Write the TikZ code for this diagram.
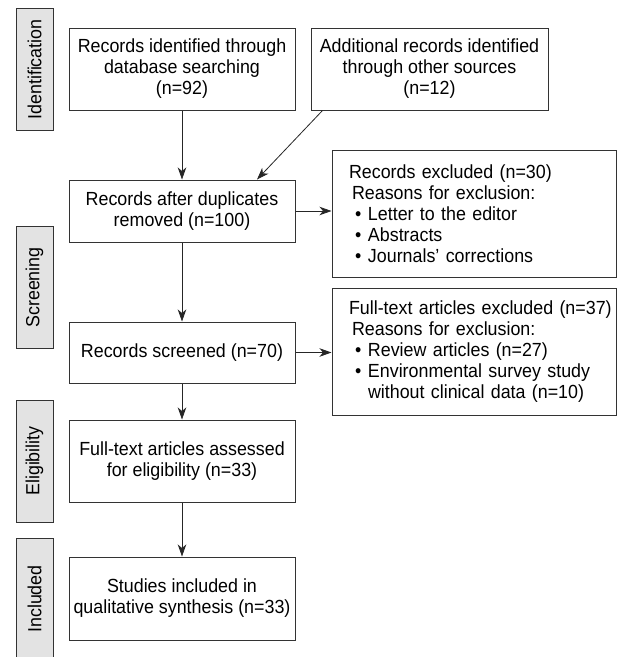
\documentclass[tikz,border=0pt]{standalone}
\usepackage{fontspec}
\setmainfont{Liberation Sans}[FakeStretch=0.94]
\usetikzlibrary{arrows.meta}
\newcommand{\bul}{\makebox[19pt][l]{\hspace*{6pt}\textbullet}}

\begin{document}
\begin{tikzpicture}
  [x=1pt,y=-1pt,
   every node/.style={font=\fontsize{19}{21}\selectfont},
   box/.style={draw=black!80,line width=1pt,align=center,inner sep=0pt,minimum width=226pt},
   side/.style={draw=black!80,line width=1pt,fill=black!11,rotate=90,inner sep=0pt,minimum width=122pt,minimum height=37pt},
   note/.style={draw=black!80,line width=1pt,align=left,inner xsep=0pt,text width=284pt,minimum height=127pt,execute at begin node={\leftskip=17pt\relax}},
   link/.style={-{Stealth[length=12pt,width=8.5pt,inset=3.5pt]},draw=black!85,line width=0.8pt}]
  \clip (0,0) rectangle (617,657);

  \node[side] (lab1) at (34.5,69.5) {Identification};
  \node[side] (lab2) at (34.5,287.5) {Screening};
  \node[side] (lab3) at (34.5,461) {Eligibility};
  \node[side] (lab4) at (34.5,599) {Included};

  \node[box,minimum height=82pt] (ident) at (182,69) {Records identified through\\database searching\\(n=92)};
  \node[box,minimum height=82pt,minimum width=237pt] (other) at (429.5,69) {Additional records identified\\through other sources\\(n=12)};
  \node[box,minimum height=62pt] (dup) at (182,211) {Records after duplicates\\removed (n=100)};
  \node[note] (excl) at (474,213.5) {Records excluded (n=30)\\
    \hspace*{3pt}Reasons for exclusion:\\
    \bul Letter to the editor\\
    \bul Abstracts\\
    \bul Journals' corrections};
  \node[box,minimum height=61pt] (screen) at (182,352.5) {Records screened (n=70)};
  \node[note] (ftexcl) at (474,351.5) {Full-text articles excluded (n=37)\\
    \hspace*{3pt}Reasons for exclusion:\\
    \bul Review articles (n=27)\\
    \bul Environmental survey study\\
    \hspace*{19pt}without clinical data (n=10)};
  \node[box,minimum height=82pt] (elig) at (182,461) {Full-text articles assessed\\for eligibility (n=33)};
  \node[box,minimum height=83pt] (incl) at (182,598.5) {Studies included in\\qualitative synthesis (n=33)};

  \foreach \from/\to in {ident/dup,dup/screen,screen/elig,elig/incl}
    \draw[link] (\from) -- (\to);
  \draw[link] ([xshift=12pt]other.south west) -- ([xshift=75pt]dup.north);
  \draw[link] (dup.east) -- (dup.east -| excl.west);
  \draw[link] (screen.east) -- (screen.east -| ftexcl.west);

\end{tikzpicture}
\end{document}
